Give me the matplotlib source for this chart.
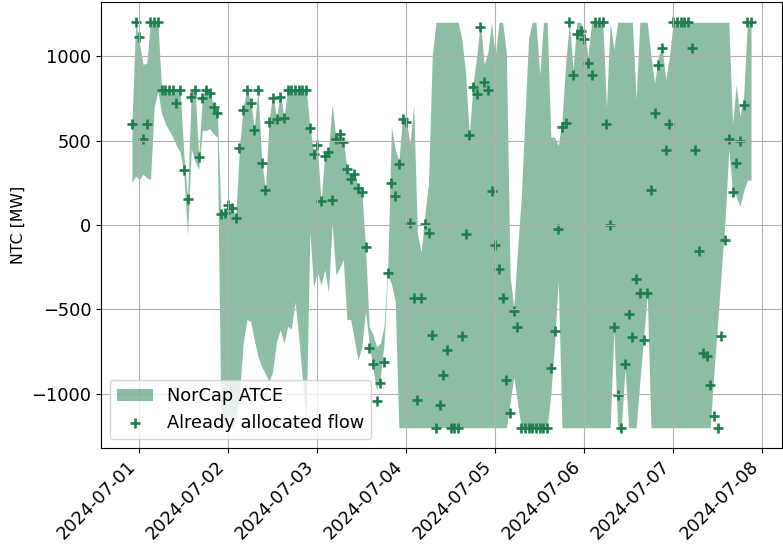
import pandas as pd
import matplotlib
matplotlib.use("Agg")
import matplotlib.pyplot as plt
import matplotlib.dates as mdates

# --- Data (hourly, UTC) ---
START = "2024-06-30 22:00"

atce_upper = [
    600, 1200, 1080, 950, 960, 1200, 1200, 1200, 800, 800, 800, 800, 800, 800, 420, 160,
    790, 810, 410, 760, 820, 790, 710, 670, 80, 75, 130, 110, 45, 460, 700, 800,
    730, 580, 800, 380, 210, 620, 780, 630, 790, 640, 800, 800, 800, 800, 800, 800,
    580, 430, 475, 140, 420, 440, 715, 520, 560, 500, 340, 300, 305, 230, 200, -130,
    -600, -650, -720, -700, -600, -250, 580, 450, 380, 640, 620, 480, 710, -50, -160, 60,
    250, 1000, 1200, 1200, 1200, 1200, 1200, 1200, 1200, 1100, 900, 530, 830, 1000, 1200, 950,
    1020, 1200, 1000, 1200, 1200, 1020, -300, -490, -150, 155, 635, 1110, 1200, 1200, 890, 1200,
    1200, 520, 520, 470, 620, 960, 1200, 920, 1200, 1200, 1150, 1000, 1200, 1200, 1200, 1200,
    700, 1200, 1040, 1200, 1200, 1200, 1200, 1200, 745, 1200, 1200, 1200, 1000, 840, 1000, 1050,
    860, 1000, 1200, 1200, 1200, 1200, 1200, 1200, 1200, 1200, 1200, 1200, 1200, 1200, 1200, 1200,
    1200, 1200, 600, 830, 640, 760, 1200, 1200,
]

atce_lower = [
    250, 290, 270, 300, 280, 270, 700, 790, 660, 600, 560, 520, 470, 430, 300, -60,
    450, 380, 330, 560, 560, 570, 540, 520, -1150, -1200, -1130, -1200, -1150, -1000, -700, -560,
    -570, -680, -780, -840, -880, -930, -860, -690, -620, -700, -600, -615, -455, -665, -920, -1140,
    -40, -370, -275, -355, -265, -400, 10, -295, -255, -205, -560, -560, -680, -800, -720, -510,
    -700, -850, -980, -900, -700, -300, -350, -450, -1200, -1200, -1200, -1200, -1200, -1200, -1200, -1200,
    -1200, -1200, -1200, -1200, -1200, -1200, -1200, -1200, -1200, -1200, -1200, -1200, -1200, -1200, -1200, -1200,
    -1200, -1200, -1200, -1200, -1200, -1200, -1050, -900, -1050, -1200, -1200, -1200, -1200, -1200, -1200, -1200,
    -1200, -1000, -700, -330, -1200, -1200, -1200, -1200, -1200, -1200, -1200, -1200, -1200, -1200, -1200, -1200,
    -1200, -1200, -620, -1200, -1200, -850, -1200, -1200, -1200, -930, -670, -410, -1200, -1200, -1200, -1200,
    -1200, -1200, -1200, -1200, -1200, -1200, -1200, -1200, -1200, -1200, -1200, -1200, -1200, -870, -580, -270,
    30, 450, 200, 170, 110, 200, 265, 265,
]

allocated_flow = [
    600, 1200, 1110, 510, 600, 1200, 1200, 1200, 800, 800, 800, 800, 720, 800, 325, 155,
    760, 800, 400, 750, 800, 780, 700, 665, 65, 70, 120, 100, 40, 455, 680, 800,
    725, 560, 800, 365, 205, 610, 750, 625, 760, 635, 800, 800, 800, 800, 800, 800,
    575, 420, 475, 140, 410, 430, 150, 510, 540, 490, 330, 275, 300, 220, 195, -130,
    -730, -825, -1040, -935, -810, -285, 250, 170, 360, 630, 610, 10, -430, -1035, -430, 5,
    -50, -650, -1200, -1065, -890, -740, -1200, -1200, -1200, -655, -55, 530, 815, 775, 1170, 845,
    800, 200, -120, -260, -435, -920, -1110, -510, -605, -1200, -1200, -1200, -1200, -1200, -1200, -1200,
    -1200, -845, -625, -25, 580, 605, 1200, 890, 1130, 1150, 1100, 960, 890, 1200, 1200, 1200,
    600, 0, -605, -1005, -1200, -820, -525, -660, -320, -400, -680, -400, 210, 665, 950, 1045,
    445, 600, 1200, 1200, 1200, 1200, 1200, 1050, 445, -155, -755, -775, -945, -1130, -1200, -655,
    -90, 510, 195, 365, 500, 710, 1200, 1200,
]

GREEN = "#1d7d4c"
FONT_SIZE = 12.8


def main():
    times = pd.date_range(START, periods=len(allocated_flow), freq="h")

    fig, ax = plt.subplots(figsize=(7.83, 5.49), dpi=100)
    fig.subplots_adjust(left=101 / 783, right=782 / 783, top=1 - 2 / 549, bottom=1 - 448 / 549)

    ax.fill_between(times, atce_lower, atce_upper, color=GREEN, alpha=0.5,
                    linewidth=0, label="NorCap ATCE")
    ax.scatter(times, allocated_flow, marker="+", s=60, color=GREEN,
               linewidths=1.9, label="Already allocated flow")

    ax.set_ylabel("NTC [MW]", fontsize=11.3)
    ax.set_yticks([-1000, -500, 0, 500, 1000])
    ax.xaxis.set_major_locator(mdates.DayLocator())
    ax.xaxis.set_major_formatter(mdates.DateFormatter("%Y-%m-%d"))
    ax.tick_params(labelsize=FONT_SIZE)
    plt.setp(ax.get_xticklabels(), rotation=45, ha="right")
    ax.grid(True)
    ax.legend(loc="lower left", fontsize=FONT_SIZE)

    fig.savefig("out.png", dpi=100)


if __name__ == "__main__":
    main()
